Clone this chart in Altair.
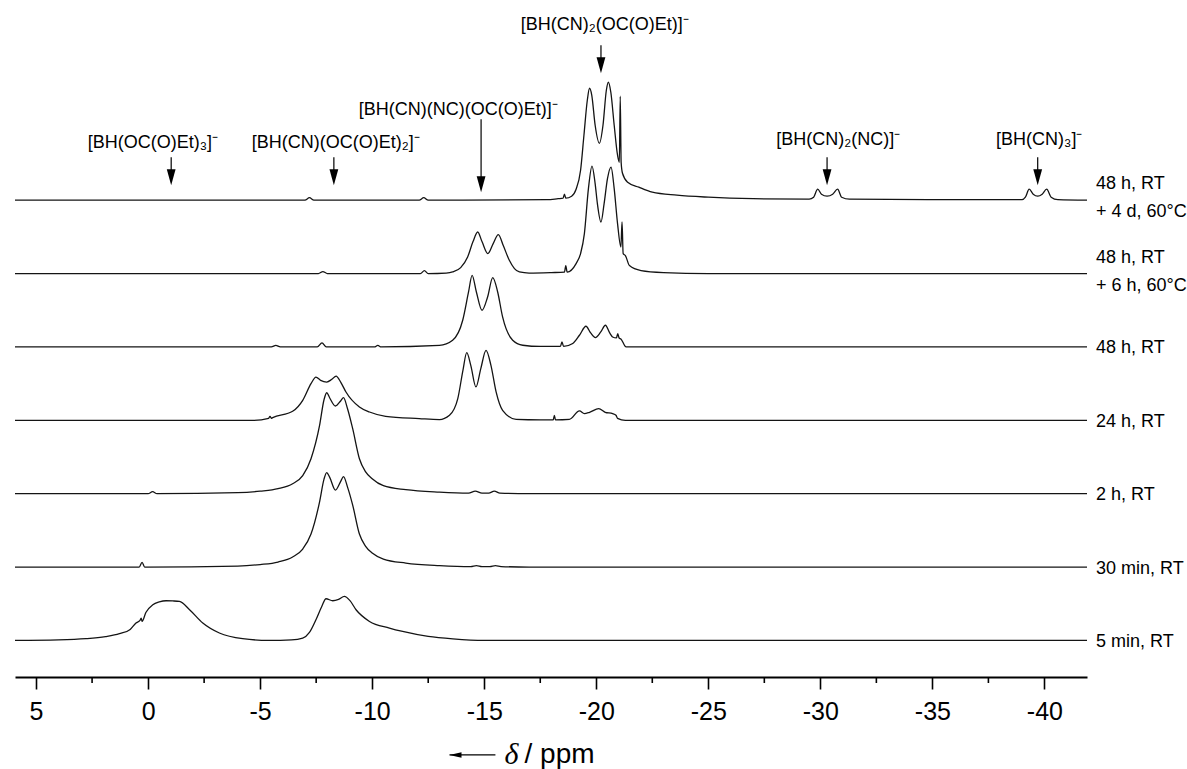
import altair as alt
import pandas as pd

# ---------------- axis ----------------
x_domain = [5.94, -41.9]
major_ticks = [5, 0, -5, -10, -15, -20, -25, -30, -35, -40]
minor_ticks = [2.5, -2.5, -7.5, -12.5, -17.5, -22.5, -27.5, -32.5, -37.5]

# ---------------- spectra (ppm, intensity above own baseline) ----------------
trace_labels = [["5 min, RT"], ["30 min, RT"], ["2 h, RT"], ["24 h, RT"], ["48 h, RT"],
                ["48 h, RT", "+ 6 h, 60°C"], ["48 h, RT", "+ 4 d, 60°C"]]
offsets = [36.6, 110.0, 183.4, 256.8, 330.2, 403.6, 477.0]

t7_ppm = [5.94, 4.0, 2.77, 1.9, 1.28, 0.8, 0.54, 0.36, 0.31, 0.27, 0.1, -0.21, -0.5, -0.8, -1.1, -1.4,
          -1.85, -2.44, -3.18, -4.22, -5.4, -6.4, -6.9, -7.2, -7.49, -7.75, -7.94, -8.24, -8.5, -8.76,
          -9.0, -9.28, -9.88, -10.77, -11.36, -12.5, -13.6, -15.0, -41.9]
t7_int = [0, 0.5, 1.7, 3.8, 6.7, 11, 17.4, 20, 22.4, 19, 28, 35.7, 38.5, 39.7, 39.5, 39, 30.7, 17.4, 7.4,
          1.7, 0, 0.5, 2.3, 8, 20.7, 34, 41.7, 39.7, 41, 44, 40, 30.7, 19, 12.4, 9, 4, 1.5, 0, 0]

t6_ppm = [5.94, 0.4, 0.27, 0.15, -4.0, -5.0, -5.8, -6.45, -6.9, -7.27, -7.65, -7.85, -7.97, -8.1, -8.36,
          -8.6, -8.72, -8.9, -9.13, -9.43, -9.7, -10.0, -10.5, -11.5, -13.0, -14.4, -14.65, -14.9, -15.25,
          -15.5, -15.75, -17.0, -41.9]
t6_int = [0, 0, 4.7, 0, 1, 2.5, 5, 10, 18, 33, 65, 88, 94.5, 90, 77, 86, 90.5, 80, 62, 33, 21, 14, 8, 4,
          1.5, 0.5, 1.5, 0.5, 0.5, 1.5, 0.5, 0, 0]

t5_ppm = [5.94, 0.0, -0.2, -0.4, -4.0, -5.0, -5.8, -6.45, -6.9, -7.27, -7.65, -7.85, -7.97, -8.1, -8.36,
          -8.6, -8.72, -8.9, -9.13, -9.43, -9.7, -10.0, -10.5, -11.5, -13.0, -14.3, -14.6, -14.9, -15.2,
          -15.45, -15.7, -17.0, -41.9]
t5_int = [0, 0, 2, 0, 1, 2.5, 5, 10, 18, 35, 68, 94, 101, 96, 87.7, 93, 96, 85, 65, 35, 22, 15, 8, 4,
          1.5, 0.5, 2.5, 0.5, 0.5, 2.5, 0.5, 0, 0]

t4_ppm = [5.94, -4.67, -5.38, -5.44, -5.5, -5.56, -6.45, -6.9, -7.27, -7.49, -7.7, -7.97, -8.2, -8.39,
          -8.6, -8.83, -9.43, -9.88, -10.6, -12.1, -13.0, -13.45, -13.82, -14.05, -14.22, -14.4, -14.63,
          -14.85, -15.08, -15.3, -15.53, -15.82, -16.42, -17.5, -18.08, -18.13, -18.18, -18.8, -19.25,
          -19.47, -19.7, -20.11, -20.4, -20.73, -20.88, -20.95, -21.3, -41.9]
t4_int = [0, 0, 2, 4, 2, 2.7, 9, 20, 36.7, 43.3, 40, 38.3, 41, 44.3, 38, 28.3, 13.3, 8.3, 4, 1.7, 0.7,
          5, 21.7, 50, 67.7, 55, 33.4, 52, 70, 55, 28.4, 10, 1, 0.5, 0.5, 5, 0.5, 1, 9.4, 6.7, 8, 11.7,
          8, 6.7, 5, 2, 0, 0]

t3_ppm = [5.94, -5.5, -5.7, -5.9, -7.55, -7.76, -7.95, -10.1, -10.25, -10.4, -13.0, -13.59, -14.04,
          -14.3, -14.46, -14.65, -14.9, -15.15, -15.38, -15.6, -15.82, -16.27, -16.72, -17.5, -18.4,
          -18.47, -18.54, -18.95, -19.25, -19.54, -19.75, -19.96, -20.2, -20.41, -20.6, -20.73, -20.9,
          -20.96, -21.02, -21.1, -21.33, -41.9]
t3_int = [0, 0, 1.5, 0, 0, 4, 0, 0, 1.5, 0, 1.5, 6.7, 26.7, 55, 71.7, 55, 36.7, 50, 69.4, 55, 30, 6.7,
          1.7, 0.5, 0.5, 5, 0.5, 3.4, 11.7, 20.7, 14, 9.4, 15, 21.7, 14, 10, 9, 13.4, 9, 8, 0, 0]

t2_ppm = [5.94, -7.6, -7.8, -8.0, -12.15, -12.33, -12.5, -13.3, -13.59, -13.95, -14.26, -14.5, -14.71,
          -14.9, -15.16, -15.4, -15.63, -15.85, -16.12, -16.35, -16.57, -17.0, -18.0, -18.58, -18.64,
          -18.7, -19.1, -19.3, -19.47, -19.65, -19.81, -19.95, -20.05, -20.21, -20.35, -20.5, -20.66,
          -20.8, -20.95, -21.1, -21.15, -21.2, -21.3, -21.48, -22.0, -23.0, -25.0, -41.9]
t2_int = [0, 0, 2, 0, 0, 3, 0, 0.5, 1.6, 6, 16.6, 32, 41.6, 32, 20, 30, 39, 28, 13.3, 5, 1.6, 0.5, 1,
          1.5, 8, 1.5, 10, 20, 40, 85, 107.6, 90, 70, 51.6, 70, 95, 106.6, 85, 50, 26.6, 51.6, 20, 18, 8,
          3, 1, 0, 0]

t1_ppm = [5.94, -7.0, -7.2, -7.4, -12.1, -12.3, -12.5, -17.8, -18.3, -18.52, -18.58, -18.64, -18.9,
          -19.1, -19.3, -19.45, -19.6, -19.7, -19.8, -19.95, -20.14, -20.3, -20.45, -20.54, -20.65,
          -20.8, -20.95, -21.03, -21.07, -21.11, -21.17, -21.4, -21.9, -22.5, -23.6, -25.0, -27.0,
          -29.5, -29.7, -29.88, -30.05, -30.3, -30.55, -30.77, -30.95, -31.3, -35.0, -39.0, -39.15,
          -39.32, -39.5, -39.7, -39.9, -40.1, -40.3, -40.6, -41.9]
t1_int = [0, 0, 2.5, 0, 0, 2.5, 0, 0.5, 1.5, 2, 6, 2, 4, 11, 30, 65, 100, 112, 105, 75, 57, 75, 110,
          118, 108, 75, 45, 38, 104, 38, 27, 18, 13, 8, 5, 3, 1.5, 1, 3, 11, 6, 4, 6, 11, 3, 1, 0.5, 0.5,
          3, 11, 6, 4, 6, 11, 3, 0.5, 0]

traces_ppm = [t7_ppm, t6_ppm, t5_ppm, t4_ppm, t3_ppm, t2_ppm, t1_ppm]
traces_int = [t7_int, t6_int, t5_int, t4_int, t3_int, t2_int, t1_int]

# ---------------- annotations ----------------
ann_text = ["[BH(OC(O)Et)₃]⁻", "[BH(CN)(OC(O)Et)₂]⁻", "[BH(CN)(NC)(OC(O)Et)]⁻",
            "[BH(CN)₂(OC(O)Et)]⁻", "[BH(CN)₂(NC)]⁻", "[BH(CN)₃]⁻"]
ann_text_ppm = [-0.21, -8.37, -13.84, -20.38, -30.8, -39.77]
ann_text_y = [534, 534, 567, 652, 537, 537]
ann_arrow_ppm = [-1.03, -8.29, -14.86, -20.21, -30.3, -39.7]
ann_arrow_top = [520, 520, 558, 632, 520, 520]
ann_arrow_tip = [492, 492, 485, 604, 492, 492]

W, H = 1072, 677
FONT = "Liberation Sans"
INK = "#141414"

rows = []
for name, pp, ii, off in zip(trace_labels, traces_ppm, traces_int, offsets):
    assert len(pp) == len(ii), name
    for k, (p, v) in enumerate(zip(pp, ii)):
        rows.append({"trace": " ".join(name), "ppm": p, "y": off + v, "k": k})
spec_df = pd.DataFrame(rows)

xs = alt.Scale(domain=x_domain, nice=False, zero=False)
ys = alt.Scale(domain=[0, 677.3], nice=False, zero=False)

lines = alt.Chart(spec_df).mark_line(color=INK, strokeWidth=1.3, interpolate="monotone").encode(
    x=alt.X("ppm:Q", scale=xs,
            axis=alt.Axis(values=major_ticks, labelExpr="'' + datum.value", tickSize=12, tickWidth=1.6,
                          domainWidth=1.8, domainColor="black", tickColor="black", labelColor="black",
                          labelFont=FONT, labelFontSize=25, labelPadding=10, labelFlush=False,
                          grid=False, title=None)),
    y=alt.Y("y:Q", scale=ys, axis=None),
    detail="trace:N",
    order="k:Q",
)

minor = alt.Chart(pd.DataFrame({"ppm": minor_ticks})).mark_rule(color="black", strokeWidth=1.6).encode(
    x=alt.X("ppm:Q", scale=xs), y=alt.value(H), y2=alt.value(H + 6))

# right-hand trace labels, one row per text line, centred on the trace baseline
lab_rows = []
for lines_, off in zip(trace_labels, offsets):
    n = len(lines_)
    shift = 2 if n > 1 else -1.5
    for j, t in enumerate(lines_):
        lab_rows.append({"label": t, "y": off + shift + (n - 1) * 14 - j * 28})
label_df = pd.DataFrame(lab_rows)
labels = alt.Chart(label_df).mark_text(align="left", baseline="middle", font=FONT, fontSize=18,
                                       color="black", dx=9).encode(
    x=alt.value(W), y=alt.Y("y:Q", scale=ys), text="label:N")

ann_df = pd.DataFrame({"text": ann_text, "tppm": ann_text_ppm, "ty": ann_text_y,
                       "appm": ann_arrow_ppm, "atop": ann_arrow_top, "atip": ann_arrow_tip})
ann_df["ashaft"] = ann_df["atip"] + 14

ann_txt = alt.Chart(ann_df).mark_text(font=FONT, fontSize=18, color="black", baseline="middle").encode(
    x=alt.X("tppm:Q", scale=xs), y=alt.Y("ty:Q", scale=ys), text="text:N")
ann_shaft = alt.Chart(ann_df).mark_rule(color="black", strokeWidth=1.2).encode(
    x=alt.X("appm:Q", scale=xs), y=alt.Y("atop:Q", scale=ys), y2="ashaft:Q")
ann_head = alt.Chart(ann_df).mark_point(shape="M-0.55,-2L0.55,-2L0,0Z", size=256, filled=True,
                                        color="black", opacity=1, strokeWidth=0).encode(
    x=alt.X("appm:Q", scale=xs), y=alt.Y("atip:Q", scale=ys))

# axis title: "<- δ / ppm"
title_arrow = pd.DataFrame({"p1": [-13.45], "p2": [-15.5], "y": [-78]})
t_shaft = alt.Chart(title_arrow).mark_rule(color="black", strokeWidth=1.2).encode(
    x=alt.X("p1:Q", scale=xs), x2="p2:Q", y=alt.Y("y:Q", scale=ys))
t_head = alt.Chart(title_arrow).mark_point(shape="M0,0L2,-0.45L2,0.45Z", size=144, filled=True,
                                           color="black", opacity=1, strokeWidth=0).encode(
    x=alt.X("p1:Q", scale=xs), y=alt.Y("y:Q", scale=ys))
delta_df = pd.DataFrame({"p": [-15.9], "y": [-78], "t": ["δ"]})
unit_df = pd.DataFrame({"p": [-16.8], "y": [-78], "t": ["/ ppm"]})
t_delta = alt.Chart(delta_df).mark_text(font="Liberation Serif", fontStyle="italic", fontSize=30,
                                        align="left", baseline="middle", color="black").encode(
    x=alt.X("p:Q", scale=xs), y=alt.Y("y:Q", scale=ys), text="t:N")
t_ppm = alt.Chart(unit_df).mark_text(font=FONT, fontSize=28, align="left", baseline="middle",
                                     color="black").encode(
    x=alt.X("p:Q", scale=xs), y=alt.Y("y:Q", scale=ys), text="t:N")

chart = alt.layer(lines, minor, labels, ann_txt, ann_shaft, ann_head, t_shaft, t_head, t_delta, t_ppm).properties(
    width=W, height=H, padding={"left": 12, "top": 0, "right": 0, "bottom": 0},
    background="white",
).configure_view(stroke=None)

chart.save("out.html", embed_options={"renderer": "svg", "actions": False})
